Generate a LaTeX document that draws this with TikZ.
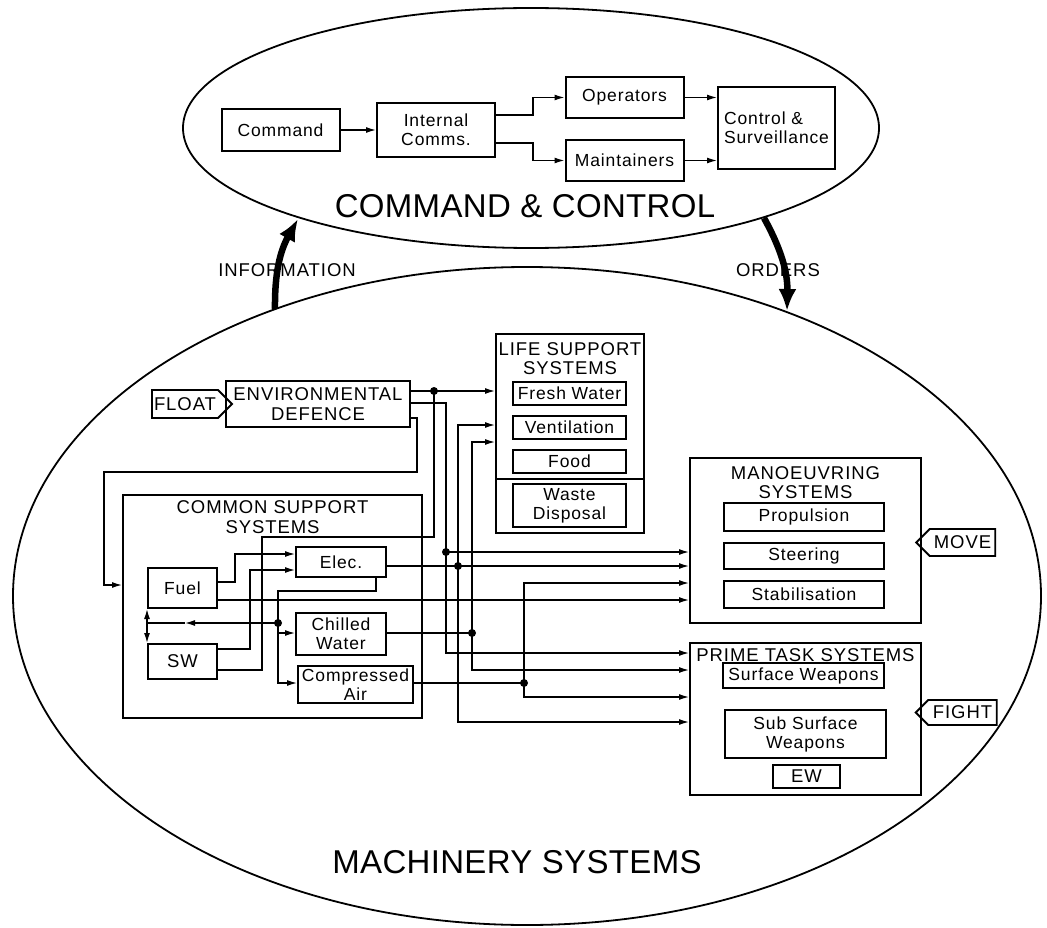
\documentclass[tikz,border=0pt]{standalone}
\usepackage{fontspec}
\setmainfont{Liberation Sans}[LetterSpace=5]
\newfontfamily\regionfont{Liberation Sans}[LetterSpace=1]
\usetikzlibrary{arrows.meta,shapes.geometric,shapes.symbols}

\tikzset{
  lbl/.style={font=\fontsize{17.5}{19}\selectfont},
  caps/.style={font=\fontsize{18.5}{19.5}\selectfont},
  box/.style={draw, line width=2pt, rectangle, inner sep=0pt, align=center, lbl},
  capbox/.style={box, caps},
  frame/.style={draw, line width=2pt, rectangle, inner sep=0pt},
  ttl/.style={inner sep=0pt, align=center, caps},
  tag/.style={draw, line width=1.8pt, signal, signal pointer angle=90, inner sep=0pt, caps},
  conn/.style={line width=1.3pt},
  arr/.style={conn, -{Latex[length=10pt,width=6pt]}},
  dbl/.style={conn, {Latex[length=10pt,width=6pt]}-{Latex[length=10pt,width=6pt]}},
  dot/.style={circle, fill, inner sep=0pt, minimum size=8pt},
  flow/.style={line width=6.5pt, -{Latex[length=22pt,width=18pt]}},
  region/.style={draw, ellipse, line width=1.8pt, inner sep=0pt},
  regiontext/.style={inner sep=0pt, font=\regionfont\fontsize{33}{36}\selectfont},
}

\begin{document}
\begin{tikzpicture}[x=1pt,y=-1pt]
\fill[white] (0,0) rectangle (1047,928);
\useasboundingbox (0,0) rectangle (1047,928);

% ---- the two regions ----
\node[region, minimum width=696pt, minimum height=240pt] (ccr) at (531,128) {};
\node[region, minimum width=1028pt, minimum height=658pt] (msr) at (527,596) {};
\node[regiontext] (cct) at (525,206) {COMMAND \& CONTROL};
\node[regiontext] (mst) at (517,862) {MACHINERY SYSTEMS};

% ---- command & control chain ----
\node[box, minimum width=118pt, minimum height=42pt] (cmd) at (280.5,130) {Command};
\node[box, minimum width=118pt, minimum height=54pt] (ic) at (436,130) {Internal\\Comms.};
\node[box, minimum width=118pt, minimum height=41pt] (ops) at (624.5,97.5) {Operators};
\node[box, minimum width=118pt, minimum height=41pt] (mnt) at (624.5,160.5) {Maintainers};
\node[box, minimum width=117pt, minimum height=82pt, align=left] (cs) at (776.5,128) {Control \&\\Surveillance};

\coordinate (e2a) at (533,115);
\coordinate (e2b) at (533,97.5);
\coordinate (e3a) at (533,143);
\coordinate (e3b) at (533,160.5);
\draw[arr] (cmd) -- (ic);
\draw[arr] (ic.east |- e2a) -- (e2a) -- (e2b) -- (ops.west);
\draw[arr] (ic.east |- e3a) -- (e3a) -- (e3b) -- (mnt.west);
\draw[arr] (ops.east) -- (cs.west |- ops.east);
\draw[arr] (mnt.east) -- (cs.west |- mnt.east);

% ---- information / orders ----
\node[caps, inner sep=0pt] (inf) at (287,270) {INFORMATION};
\node[caps, inner sep=0pt] (ord) at (778,270) {ORDERS};
\coordinate (infs) at (275,309);
\coordinate (infe) at (298,219);
\coordinate (ords) at (764,218);
\coordinate (orde) at (787,311);
\draw[flow] (infs) to[bend left=15] (infe);
\draw[flow] (ords) to[bend left=15] (orde);

% ---- environmental defence ----
\node[tag, signal to=east, minimum width=80pt, minimum height=28pt] (flt) at (185,404) {FLOAT};
\node[capbox, minimum width=184pt, minimum height=46pt] (ed) at (318,404) {ENVIRONMENTAL\\DEFENCE};

% ---- life support ----
\node[frame, minimum width=148pt, minimum height=199pt] (ls) at (570,433.5) {};
\node[ttl] (lst) at (570,358.5) {LIFE SUPPORT\\SYSTEMS};
\node[box, minimum width=113pt, minimum height=23pt] (fw) at (569.5,393.5) {Fresh Water};
\node[box, minimum width=113pt, minimum height=23pt] (vent) at (569.5,427.5) {Ventilation};
\node[box, minimum width=113pt, minimum height=23pt] (food) at (569.5,461.5) {Food};
\node[box, minimum width=113pt, minimum height=43pt] (wd) at (569.5,505.5) {Waste\\Disposal};
\coordinate (dv) at (570,479);
\draw[line width=2pt] (ls.west |- dv) -- (ls.east |- dv);

% ---- manoeuvring ----
\node[frame, minimum width=231pt, minimum height=165pt] (man) at (805.5,540.5) {};
\node[ttl] (mant) at (805.5,482.5) {MANOEUVRING\\SYSTEMS};
\node[box, minimum width=160pt, minimum height=28pt] (prop) at (804,517) {Propulsion};
\node[box, minimum width=160pt, minimum height=26pt] (steer) at (804,556) {Steering};
\node[box, minimum width=160pt, minimum height=27pt] (stab) at (804,594.5) {Stabilisation};
\node[tag, signal to=west, minimum width=79pt, minimum height=27pt] (mov) at (962.5,542.5) {MOVE};

% ---- prime task ----
\node[frame, minimum width=231pt, minimum height=152pt] (pts) at (805.5,719) {};
\node[ttl] (ptst) at (805.5,655) {PRIME TASK SYSTEMS};
\node[box, minimum width=161pt, minimum height=25pt] (sfw) at (803.5,675.5) {Surface Weapons};
\node[box, minimum width=161pt, minimum height=48pt] (ssw) at (805.5,734) {Sub Surface\\Weapons};
\node[capbox, minimum width=67pt, minimum height=23pt] (ew) at (806.5,776.5) {EW};
\node[tag, signal to=west, minimum width=81pt, minimum height=25pt] (fgt) at (962.5,712.5) {FIGHT};

% ---- common support ----
\node[frame, minimum width=299pt, minimum height=223pt] (csys) at (272.5,606.5) {};
\node[ttl] (csyst) at (272.5,517) {COMMON SUPPORT\\SYSTEMS};
\node[box, minimum width=69pt, minimum height=40pt] (fuel) at (182.5,588) {Fuel};
\node[capbox, minimum width=69pt, minimum height=35pt] (swb) at (182.5,661.5) {SW};
\node[box, minimum width=90pt, minimum height=30pt] (elec) at (341,562) {Elec.};
\node[box, minimum width=90pt, minimum height=42pt] (chw) at (341,634) {Chilled\\Water};
\node[box, minimum width=115pt, minimum height=37pt] (cair) at (355.5,684.5) {Compressed\\Air};

% ---- junctions and bends ----
\coordinate (j1) at (434,391);
\coordinate (b2) at (446,403);
\coordinate (j2) at (446,552);
\coordinate (b2e) at (446,653);
\coordinate (b3a) at (417,418);
\coordinate (b3b) at (417,472);
\coordinate (b3c) at (104,472);
\coordinate (b3d) at (104,585);
\coordinate (b4a) at (434,537);
\coordinate (b4b) at (262,537);
\coordinate (b4c) at (262,670);
\coordinate (t5) at (458,425);
\coordinate (j3) at (458,566);
\coordinate (b5) at (458,722);
\coordinate (t6) at (472,442);
\coordinate (j4) at (472,633);
\coordinate (b6) at (472,670);
\coordinate (c8) at (300,600);
\coordinate (t9) at (524,583);
\coordinate (j5) at (524,683);
\coordinate (b9) at (524,697);
\coordinate (b12a) at (235,582);
\coordinate (b12b) at (235,554);
\coordinate (b13a) at (250,649);
\coordinate (b13b) at (250,570);
\coordinate (b14a) at (376,591);
\coordinate (b14b) at (278,591);
\coordinate (j6) at (278,623);
\coordinate (b14c) at (278,633);
\coordinate (b14d) at (278,683);
\coordinate (m15) at (185,623);
\coordinate (v15) at (147,623);

% ---- machinery connectors ----
\draw[arr] (ed.east |- j1) -- (j1) -- (ls.west |- j1);
\draw[arr] (ed.east |- b2) -- (b2) -- (b2e) -- (pts.west |- b2e);
\draw[arr] (j2) -- (man.west |- j2);
\draw[arr] (ed.east |- b3a) -- (b3a) -- (b3b) -- (b3c) -- (b3d) -- (csys.west |- b3d);
\draw[conn] (j1) -- (b4a) -- (b4b) -- (b4c) -- (swb.east |- b4c);
\draw[dbl] (ls.west |- t5) -- (t5) -- (b5) -- (pts.west |- b5);
\draw[dbl] (ls.west |- t6) -- (t6) -- (b6) -- (pts.west |- b6);
\draw[arr] (elec.east |- j3) -- (man.west |- j3);
\draw[arr] (fuel.east |- c8) -- (man.west |- c8);
\draw[dbl] (man.west |- t9) -- (t9) -- (b9) -- (pts.west |- b9);
\draw[conn] (chw.east |- j4) -- (j4);
\draw[conn] (cair.east |- j5) -- (j5);
\draw[arr] (fuel.east |- b12a) -- (b12a) -- (b12b) -- (elec.west |- b12b);
\draw[arr] (swb.east |- b13a) -- (b13a) -- (b13b) -- (elec.west |- b13b);
\draw[arr] (b14a |- elec.south) -- (b14a) -- (b14b) -- (b14d) -- (cair.west |- b14d);
\draw[arr] (b14c) -- (chw.west |- b14c);
\draw[arr] (j6) -- (m15);
\draw[conn] (m15) -- (v15);
\draw[arr] (v15) -- (v15 |- fuel.south);
\draw[arr] (v15) -- (v15 |- swb.north);

\foreach \j in {j1,j2,j3,j4,j5,j6}
  \node[dot] at (\j) {};
\end{tikzpicture}
\end{document}
